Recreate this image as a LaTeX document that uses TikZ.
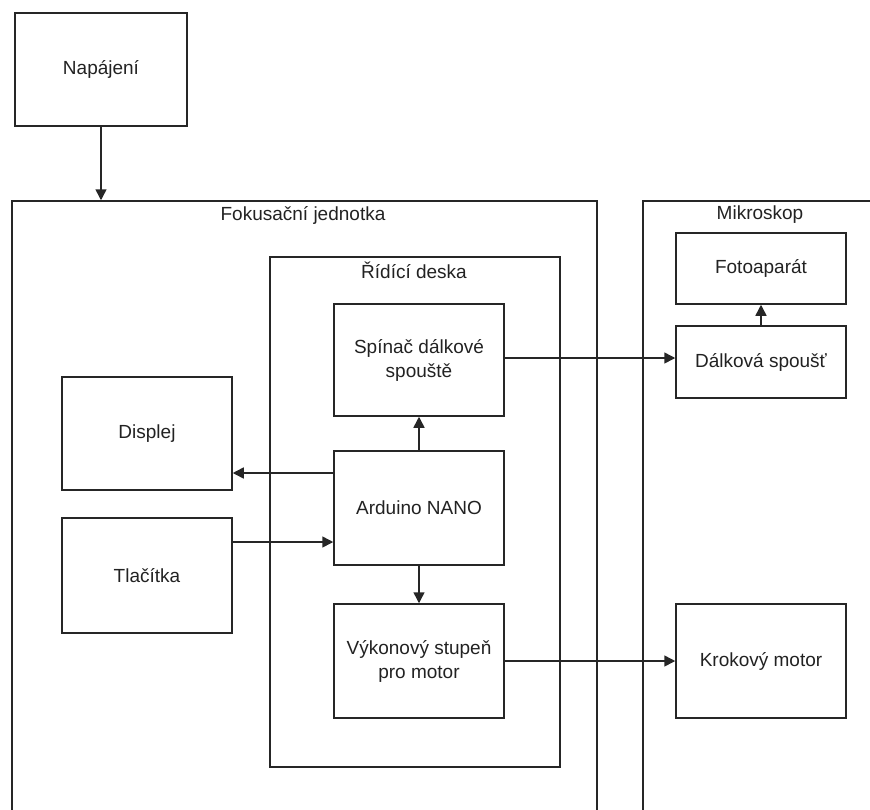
\documentclass[tikz,border=0pt]{standalone}
\usepackage{fontspec}
\setmainfont{Liberation Sans}
\usetikzlibrary{arrows.meta}
\definecolor{ln}{HTML}{262626}
\definecolor{tx}{HTML}{222222}
\begin{document}
\begin{tikzpicture}[x=1pt,y=-1pt,
  blk/.style={draw=ln,line width=1.5pt,rectangle,inner sep=0pt,align=center,
    minimum width=170pt,font=\fontsize{19}{24}\selectfont,text=tx},
  cont/.style={draw=ln,line width=1.5pt,rectangle,inner sep=0pt},
  lbl/.style={font=\fontsize{19}{23}\selectfont,text=tx,inner sep=0pt},
  arr/.style={draw=ln,line width=1.5pt,-{Triangle[length=11pt,width=11pt]}}]
\useasboundingbox (0,0) rectangle (870,809);
% containers
\node[cont,minimum width=585pt,minimum height=700pt] (fok) at (304.5,551) {};
\node[cont,minimum width=300pt,minimum height=700pt] (mik) at (793,551) {};
\node[cont,minimum width=290pt,minimum height=510pt] (rid) at (415,512) {};
\node[lbl] (fokl) at (303,215) {Fokusační jednotka};
\node[lbl] (mikl) at (760,215) {Mikroskop};
\node[lbl] (ridl) at (414,270) {Řídící deska};
% blocks
\node[blk,minimum width=172pt,minimum height=113pt] (nap) at (101,69.5) {Napájení};
\node[blk,minimum height=71pt] (fot) at (761,268.5) {Fotoaparát};
\node[blk,minimum height=72pt] (dal) at (761,362) {Dálková spoušť};
\node[blk,minimum height=112pt] (spi) at (419,360) {Spínač dálkové\\spouště};
\node[blk,minimum height=114pt] (ard) at (419,508) {Arduino NANO};
\node[blk,minimum height=114pt] (vyk) at (419,661) {Výkonový stupeň\\pro motor};
\node[blk,minimum height=113pt] (dis) at (147,433.5) {Displej};
\node[blk,minimum height=115pt] (tla) at (147,575.5) {Tlačítka};
\node[blk,minimum height=114pt] (kro) at (761,661) {Krokový motor};
% connectors
\draw[arr] (nap.south) -- (nap.south |- fok.north);
\draw[arr] (dal.north) -- (fot.south);
\draw[arr] (ard.north) -- (spi.south);
\draw[arr] (ard.south) -- (vyk.north);
\draw[arr] ([yshift=35pt]ard.west) -- ([yshift=35pt]ard.west -| dis.east);
\draw[arr] ([yshift=33.5pt]tla.east) -- ([yshift=33.5pt]tla.east -| ard.west);
\draw[arr] ([yshift=2pt]spi.east) -- ([yshift=2pt]spi.east -| dal.west);
\draw[arr] (vyk.east) -- (kro.west);
\end{tikzpicture}
\end{document}
